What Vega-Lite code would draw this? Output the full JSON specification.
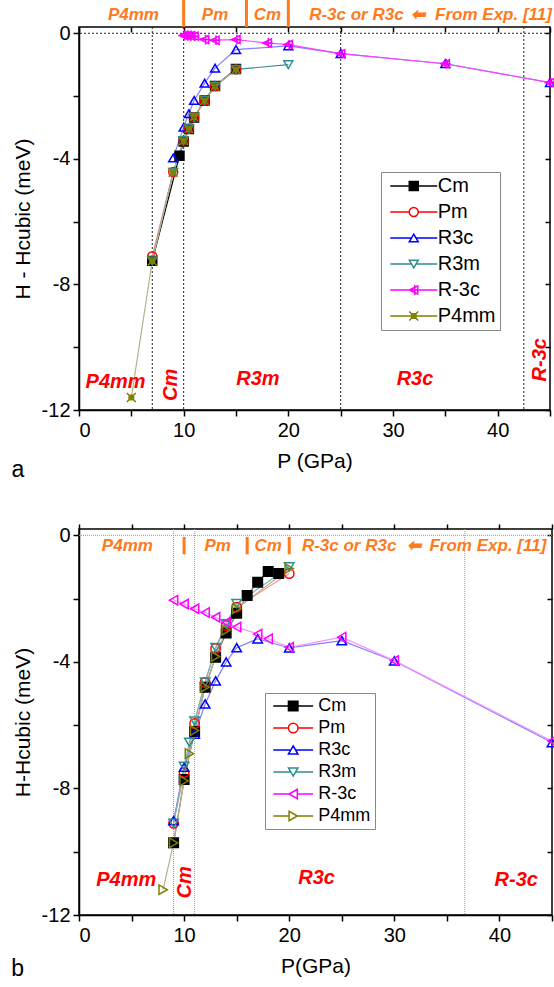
{
  "$schema": "https://vega.github.io/schema/vega-lite/v6.json",
  "padding": {"left": 10, "top": -3, "right": 0, "bottom": 0},
  "spacing": 119,
  "bounds": "flush",
  "datasets": {
    "a": [
      {"s": "Cm", "P": 7, "E": -7.25}, {"s": "Cm", "P": 9.6, "E": -3.9}, {"s": "Cm", "P": 10, "E": -3.45}, {"s": "Cm", "P": 10.5, "E": -3.05}, {"s": "Cm", "P": 11, "E": -2.68}, {"s": "Cm", "P": 12, "E": -2.14}, {"s": "Cm", "P": 13, "E": -1.68}, {"s": "Cm", "P": 15, "E": -1.14},
      {"s": "Pm", "P": 7, "E": -7.1}, {"s": "Pm", "P": 9, "E": -4.42}, {"s": "Pm", "P": 10, "E": -3.42}, {"s": "Pm", "P": 10.5, "E": -3.04}, {"s": "Pm", "P": 11, "E": -2.67}, {"s": "Pm", "P": 12, "E": -2.13}, {"s": "Pm", "P": 13, "E": -1.68}, {"s": "Pm", "P": 15, "E": -1.15},
      {"s": "R3c", "P": 9, "E": -3.97}, {"s": "R3c", "P": 10, "E": -2.99}, {"s": "R3c", "P": 10.5, "E": -2.56}, {"s": "R3c", "P": 11, "E": -2.14}, {"s": "R3c", "P": 12, "E": -1.59}, {"s": "R3c", "P": 13, "E": -1.11}, {"s": "R3c", "P": 15, "E": -0.52}, {"s": "R3c", "P": 20, "E": -0.4}, {"s": "R3c", "P": 25, "E": -0.65}, {"s": "R3c", "P": 35, "E": -0.97}, {"s": "R3c", "P": 45, "E": -1.57},
      {"s": "R3m", "P": 7, "E": -7.25}, {"s": "R3m", "P": 9, "E": -4.43}, {"s": "R3m", "P": 10, "E": -3.42}, {"s": "R3m", "P": 10.5, "E": -3.04}, {"s": "R3m", "P": 11, "E": -2.67}, {"s": "R3m", "P": 12, "E": -2.14}, {"s": "R3m", "P": 13, "E": -1.69}, {"s": "R3m", "P": 15, "E": -1.15}, {"s": "R3m", "P": 20, "E": -1.0},
      {"s": "R-3c", "P": 10, "E": -0.07}, {"s": "R-3c", "P": 10.3, "E": -0.07}, {"s": "R-3c", "P": 10.6, "E": -0.08}, {"s": "R-3c", "P": 11, "E": -0.09}, {"s": "R-3c", "P": 12, "E": -0.2}, {"s": "R-3c", "P": 13, "E": -0.22}, {"s": "R-3c", "P": 15, "E": -0.2}, {"s": "R-3c", "P": 18, "E": -0.31}, {"s": "R-3c", "P": 20, "E": -0.36}, {"s": "R-3c", "P": 25, "E": -0.65}, {"s": "R-3c", "P": 35, "E": -0.97}, {"s": "R-3c", "P": 45, "E": -1.57},
      {"s": "P4mm", "P": 5, "E": -11.6}, {"s": "P4mm", "P": 7, "E": -7.25}, {"s": "P4mm", "P": 9, "E": -4.43}, {"s": "P4mm", "P": 10, "E": -3.42}, {"s": "P4mm", "P": 10.5, "E": -3.04}, {"s": "P4mm", "P": 11, "E": -2.67}, {"s": "P4mm", "P": 12, "E": -2.14}, {"s": "P4mm", "P": 13, "E": -1.69}, {"s": "P4mm", "P": 15, "E": -1.15}
    ],
    "b": [
      {"s": "Cm", "P": 9, "E": -9.72}, {"s": "Cm", "P": 10, "E": -7.72}, {"s": "Cm", "P": 11, "E": -6.2}, {"s": "Cm", "P": 12, "E": -4.8}, {"s": "Cm", "P": 13, "E": -3.85}, {"s": "Cm", "P": 14, "E": -3.09}, {"s": "Cm", "P": 15, "E": -2.46}, {"s": "Cm", "P": 16, "E": -1.9}, {"s": "Cm", "P": 17, "E": -1.48}, {"s": "Cm", "P": 18, "E": -1.14}, {"s": "Cm", "P": 19, "E": -1.21},
      {"s": "Pm", "P": 9, "E": -9.1}, {"s": "Pm", "P": 10, "E": -7.5}, {"s": "Pm", "P": 11, "E": -5.95}, {"s": "Pm", "P": 12, "E": -4.65}, {"s": "Pm", "P": 13, "E": -3.58}, {"s": "Pm", "P": 14, "E": -2.85}, {"s": "Pm", "P": 15, "E": -2.27}, {"s": "Pm", "P": 20, "E": -1.21},
      {"s": "R3c", "P": 9, "E": -9.02}, {"s": "R3c", "P": 10, "E": -7.33}, {"s": "R3c", "P": 11, "E": -6.28}, {"s": "R3c", "P": 12, "E": -5.33}, {"s": "R3c", "P": 13, "E": -4.6}, {"s": "R3c", "P": 14, "E": -4.0}, {"s": "R3c", "P": 15, "E": -3.55}, {"s": "R3c", "P": 17, "E": -3.27}, {"s": "R3c", "P": 20, "E": -3.56}, {"s": "R3c", "P": 25, "E": -3.33}, {"s": "R3c", "P": 30, "E": -3.97}, {"s": "R3c", "P": 45, "E": -6.55},
      {"s": "R3m", "P": 9, "E": -9.1}, {"s": "R3m", "P": 10, "E": -7.3}, {"s": "R3m", "P": 10.5, "E": -6.54}, {"s": "R3m", "P": 11, "E": -5.87}, {"s": "R3m", "P": 12, "E": -4.64}, {"s": "R3m", "P": 13, "E": -3.55}, {"s": "R3m", "P": 14, "E": -2.8}, {"s": "R3m", "P": 15, "E": -2.16}, {"s": "R3m", "P": 20, "E": -1.0},
      {"s": "R-3c", "P": 9, "E": -2.05}, {"s": "R-3c", "P": 10, "E": -2.17}, {"s": "R-3c", "P": 11, "E": -2.32}, {"s": "R-3c", "P": 12, "E": -2.44}, {"s": "R-3c", "P": 13, "E": -2.59}, {"s": "R-3c", "P": 14, "E": -2.75}, {"s": "R-3c", "P": 15, "E": -2.9}, {"s": "R-3c", "P": 17, "E": -3.12}, {"s": "R-3c", "P": 18, "E": -3.27}, {"s": "R-3c", "P": 20, "E": -3.54}, {"s": "R-3c", "P": 25, "E": -3.22}, {"s": "R-3c", "P": 30, "E": -3.96}, {"s": "R-3c", "P": 45, "E": -6.5},
      {"s": "P4mm", "P": 8, "E": -11.2}, {"s": "P4mm", "P": 9, "E": -9.72}, {"s": "P4mm", "P": 10, "E": -7.76}, {"s": "P4mm", "P": 10.5, "E": -6.9}, {"s": "P4mm", "P": 11, "E": -6.17}, {"s": "P4mm", "P": 12, "E": -4.8}, {"s": "P4mm", "P": 13, "E": -3.83}, {"s": "P4mm", "P": 14, "E": -3.0}, {"s": "P4mm", "P": 15, "E": -2.32}, {"s": "P4mm", "P": 20, "E": -1.05}
    ]
  },
  "vconcat": [
    {
      "width": 471,
      "height": 383,
      "layer": [
        {
          "data": {"values": [{"P": 7}, {"P": 10}, {"P": 25}, {"P": 42.5}]},
          "mark": {"type": "rule", "color": "#222", "strokeDash": [2, 2], "strokeWidth": 1},
          "encoding": {
            "x": {"field": "P", "type": "quantitative", "scale": {"domain": [0, 45], "nice": false, "zero": false},
              "axis": {"orient": "bottom", "values": [0, 5, 10, 15, 20, 25, 30, 35, 40, 45], "labelExpr": "datum.value % 10 == 0 ? '' + datum.value : ''", "title": "P (GPa)", "labelPadding": 4, "titlePadding": 10}}
          }
        },
        {
          "data": {"values": [{"E": 0}]},
          "mark": {"type": "rule", "color": "#222", "strokeDash": [2, 2], "strokeWidth": 1},
          "encoding": {
            "y": {"field": "E", "type": "quantitative", "scale": {"domain": [-12, 0.2], "nice": false, "zero": false},
              "axis": {"orient": "left", "values": [-12, -10, -8, -6, -4, -2, 0], "labelExpr": "datum.value % 4 == 0 ? '' + datum.value : ''", "title": "H - Hcubic (meV)", "labelPadding": 3, "titlePadding": 8}}
          }
        },
        {
          "data": {"name": "a"},
          "mark": {"type": "line", "strokeWidth": 1.2},
          "encoding": {
            "x": {"field": "P", "type": "quantitative", "scale": {"domain": [0, 45], "nice": false, "zero": false},
              "axis": {"orient": "top", "values": [0, 5, 10, 15, 20, 25, 30, 35, 40, 45], "labels": false, "title": null, "tickSize": -5, "domain": false}},
            "y": {"field": "E", "type": "quantitative", "scale": {"domain": [-12, 0.2], "nice": false, "zero": false},
              "axis": {"orient": "right", "values": [-12, -10, -8, -6, -4, -2, 0], "labels": false, "title": null, "tickSize": -5, "domain": false}},
            "color": {"field": "s", "type": "nominal", "legend": null,
              "scale": {"domain": ["P4mm", "R-3c", "R3m", "R3c", "Pm", "Cm"], "range": ["#b4b48c", "#ff40ff", "#3f8f8f", "#8080ff", "#ff8c8c", "#000000"]}}
          }
        },
        {
          "data": {"name": "a"},
          "mark": {"type": "point", "filled": false, "size": 80, "strokeWidth": 1.5, "opacity": 1},
          "encoding": {
            "x": {"field": "P", "type": "quantitative", "scale": {"domain": [0, 45], "nice": false, "zero": false}, "axis": null},
            "y": {"field": "E", "type": "quantitative", "scale": {"domain": [-12, 0.2], "nice": false, "zero": false}, "axis": null},
            "shape": {"field": "s", "type": "nominal", "legend": null,
              "scale": {"domain": ["Cm", "Pm", "R3c", "R3m", "R-3c", "P4mm"], "range": ["square", "circle", "triangle-up", "triangle-down", "M-1,0L0.9,-0.9L0.9,0.9Z M0.2,-1.1L0.2,1.1 M-1.2,0L1.2,0", "M-1,-1L1,1M-1,1L1,-1M-0.5,-0.5L0.5,-0.5L0.5,0.5L-0.5,0.5Z"]}},
            "stroke": {"field": "s", "type": "nominal", "legend": null,
              "scale": {"domain": ["Cm", "Pm", "R3c", "R3m", "R-3c", "P4mm"], "range": ["#000000", "#ff0000", "#0000ff", "#2f8f8f", "#ff00ff", "#7f7f00"]}},
            "fill": {"field": "s", "type": "nominal", "legend": null,
              "scale": {"domain": ["Cm", "Pm", "R3c", "R3m", "R-3c", "P4mm"], "range": ["#000000", "transparent", "transparent", "transparent", "transparent", "transparent"]}}
          }
        },
        {
          "data": {"values": []},
          "mark": {"type": "point", "filled": false, "size": 80, "strokeWidth": 1.5, "opacity": 1},
          "encoding": {
            "x": {"field": "P", "type": "quantitative", "scale": {"domain": [0, 45], "nice": false, "zero": false}, "axis": null},
            "y": {"field": "E", "type": "quantitative", "scale": {"domain": [-12, 0.2], "nice": false, "zero": false}, "axis": null},
            "shape": {"field": "s", "type": "nominal",
              "scale": {"domain": ["Cm", "Pm", "R3c", "R3m", "R-3c", "P4mm"], "range": ["M-5.25,0L-1,0M1,0L5.25,0M-1,-1L1,-1L1,1L-1,1Z", "M-5.25,0L-1,0M1,0L5.25,0M-1,0A1,1,0,1,1,1,0A1,1,0,1,1,-1,0Z", "M-5.25,0L-0.5,0M0.5,0L5.25,0M0,-0.866L1,0.866L-1,0.866Z", "M-5.25,0L-0.5,0M0.5,0L5.25,0M0,0.866L1,-0.866L-1,-0.866Z", "M-5.25,0L5.25,0M-1,0L0.9,-0.9L0.9,0.9ZM0.2,-1.1L0.2,1.1", "M-5.25,0L5.25,0M-1,-1L1,1M-1,1L1,-1M-0.5,-0.5L0.5,-0.5L0.5,0.5L-0.5,0.5Z"]},
              "legend": {"orient": "none", "legendX": 302, "legendY": 145, "title": null, "symbolSize": 80, "symbolOffset": 18.75, "labelOffset": 14, "padding": 4, "rowPadding": 6, "labelFontSize": 20}},
            "stroke": {"field": "s", "type": "nominal",
              "scale": {"domain": ["Cm", "Pm", "R3c", "R3m", "R-3c", "P4mm"], "range": ["#000000", "#ff0000", "#0000ff", "#2f8f8f", "#ff00ff", "#7f7f00"]},
              "legend": {"orient": "none", "legendX": 302, "legendY": 145, "title": null, "symbolSize": 80, "symbolOffset": 18.75, "labelOffset": 14, "padding": 4, "rowPadding": 6, "labelFontSize": 20}},
            "fill": {"field": "s", "type": "nominal",
              "scale": {"domain": ["Cm", "Pm", "R3c", "R3m", "R-3c", "P4mm"], "range": ["#000000", "transparent", "transparent", "transparent", "transparent", "transparent"]},
              "legend": {"orient": "none", "legendX": 302, "legendY": 145, "title": null, "symbolSize": 80, "symbolOffset": 18.75, "labelOffset": 14, "padding": 4, "rowPadding": 6, "labelFontSize": 20}}
          }
        },
        {
          "data": {"values": [{"P": 10}, {"P": 16}, {"P": 20}]},
          "mark": {"type": "rule", "color": "#ff7a1a", "strokeWidth": 3},
          "encoding": {
            "x": {"field": "P", "type": "quantitative", "scale": {"domain": [0, 45], "nice": false, "zero": false}, "axis": null},
            "y": {"datum": 0.2, "type": "quantitative", "scale": {"domain": [-12, 0.2], "nice": false, "zero": false}, "axis": null},
            "y2": {"datum": 1.06}
          }
        },
        {
          "data": {"values": [{"P": 5.2, "E": 0.58, "t": "P4mm"}, {"P": 13.0, "E": 0.58, "t": "Pm"}, {"P": 18.0, "E": 0.58, "t": "Cm"}, {"P": 26.5, "E": 0.58, "t": "R-3c or R3c"}, {"P": 32.4, "E": 0.58, "t": "⬅"}, {"P": 39.6, "E": 0.58, "t": "From Exp. [11]"}]},
          "mark": {"type": "text", "color": "#ff7a1a", "fontSize": 17, "fontWeight": "bold", "fontStyle": "italic", "align": "center", "baseline": "middle"},
          "encoding": {
            "x": {"field": "P", "type": "quantitative", "scale": {"domain": [0, 45], "nice": false, "zero": false}, "axis": null},
            "y": {"field": "E", "type": "quantitative", "scale": {"domain": [-12, 0.2], "nice": false, "zero": false}, "axis": null},
            "text": {"field": "t"}
          }
        },
        {
          "data": {"values": [{"P": 3.5, "E": -11.1, "t": "P4mm"}, {"P": 17.1, "E": -11.0, "t": "R3m"}, {"P": 32.1, "E": -11.0, "t": "R3c"}]},
          "mark": {"type": "text", "color": "#ff0000", "fontSize": 20, "fontWeight": "bold", "fontStyle": "italic", "align": "center", "baseline": "middle"},
          "encoding": {
            "x": {"field": "P", "type": "quantitative", "scale": {"domain": [0, 45], "nice": false, "zero": false}, "axis": null},
            "y": {"field": "E", "type": "quantitative", "scale": {"domain": [-12, 0.2], "nice": false, "zero": false}, "axis": null},
            "text": {"field": "t"}
          }
        },
        {
          "data": {"values": [{"P": 8.8, "E": -11.2, "t": "Cm"}, {"P": 44.0, "E": -10.4, "t": "R-3c"}]},
          "mark": {"type": "text", "color": "#ff0000", "fontSize": 20, "fontWeight": "bold", "fontStyle": "italic", "align": "center", "baseline": "middle", "angle": 270},
          "encoding": {
            "x": {"field": "P", "type": "quantitative", "scale": {"domain": [0, 45], "nice": false, "zero": false}, "axis": null},
            "y": {"field": "E", "type": "quantitative", "scale": {"domain": [-12, 0.2], "nice": false, "zero": false}, "axis": null},
            "text": {"field": "t"}
          }
        },
        {
          "data": {"values": [{"P": -5.83, "E": -13.9, "t": "a"}]},
          "mark": {"type": "text", "color": "black", "fontSize": 23, "align": "center", "baseline": "middle"},
          "encoding": {
            "x": {"field": "P", "type": "quantitative", "scale": {"domain": [0, 45], "nice": false, "zero": false}, "axis": null},
            "y": {"field": "E", "type": "quantitative", "scale": {"domain": [-12, 0.2], "nice": false, "zero": false}, "axis": null},
            "text": {"field": "t"}
          }
        }
      ],
      "resolve": {"axis": {"x": "independent", "y": "independent"}, "scale": {"shape": "independent", "stroke": "independent", "fill": "independent", "color": "independent"}}
    },
    {
      "width": 473,
      "height": 386,
      "layer": [
        {
          "data": {"values": [{"P": 9}, {"P": 11}, {"P": 36.7}]},
          "mark": {"type": "rule", "color": "#999", "strokeDash": [1, 1], "strokeWidth": 1},
          "encoding": {
            "x": {"field": "P", "type": "quantitative", "scale": {"domain": [0, 45], "nice": false, "zero": false},
              "axis": {"orient": "bottom", "values": [0, 5, 10, 15, 20, 25, 30, 35, 40, 45], "labelExpr": "datum.value % 10 == 0 ? '' + datum.value : ''", "title": "P(GPa)", "labelPadding": 4, "titlePadding": 10}}
          }
        },
        {
          "data": {"values": [{"E": 0}]},
          "mark": {"type": "rule", "color": "#999", "strokeDash": [1, 1], "strokeWidth": 1},
          "encoding": {
            "y": {"field": "E", "type": "quantitative", "scale": {"domain": [-12, 0.2], "nice": false, "zero": false},
              "axis": {"orient": "left", "values": [-12, -10, -8, -6, -4, -2, 0], "labelExpr": "datum.value % 4 == 0 ? '' + datum.value : ''", "title": "H-Hcubic (meV)", "labelPadding": 3, "titlePadding": 8}}
          }
        },
        {
          "data": {"name": "b"},
          "mark": {"type": "line", "strokeWidth": 1.2},
          "encoding": {
            "x": {"field": "P", "type": "quantitative", "scale": {"domain": [0, 45], "nice": false, "zero": false},
              "axis": {"orient": "top", "values": [0, 5, 10, 15, 20, 25, 30, 35, 40, 45], "labels": false, "title": null, "tickSize": 5, "domain": false}},
            "y": {"field": "E", "type": "quantitative", "scale": {"domain": [-12, 0.2], "nice": false, "zero": false},
              "axis": {"orient": "right", "values": [-12, -10, -8, -6, -4, -2, 0], "labels": false, "title": null, "tickSize": -5, "domain": false}},
            "color": {"field": "s", "type": "nominal", "legend": null,
              "scale": {"domain": ["P4mm", "R-3c", "R3m", "R3c", "Pm", "Cm"], "range": ["#b4b48c", "#ff90ff", "#70b8b8", "#8080ff", "#ff8c8c", "#707070"]}}
          }
        },
        {
          "data": {"name": "b"},
          "mark": {"type": "point", "filled": false, "size": 90, "strokeWidth": 1.5, "opacity": 1},
          "encoding": {
            "x": {"field": "P", "type": "quantitative", "scale": {"domain": [0, 45], "nice": false, "zero": false}, "axis": null},
            "y": {"field": "E", "type": "quantitative", "scale": {"domain": [-12, 0.2], "nice": false, "zero": false}, "axis": null},
            "shape": {"field": "s", "type": "nominal", "legend": null,
              "scale": {"domain": ["Cm", "Pm", "R3c", "R3m", "R-3c", "P4mm"], "range": ["square", "circle", "triangle-up", "triangle-down", "triangle-left", "triangle-right"]}},
            "stroke": {"field": "s", "type": "nominal", "legend": null,
              "scale": {"domain": ["Cm", "Pm", "R3c", "R3m", "R-3c", "P4mm"], "range": ["#000000", "#ff0000", "#0000ff", "#2f8f8f", "#ff00ff", "#7f7f00"]}},
            "fill": {"field": "s", "type": "nominal", "legend": null,
              "scale": {"domain": ["Cm", "Pm", "R3c", "R3m", "R-3c", "P4mm"], "range": ["#000000", "transparent", "transparent", "transparent", "transparent", "transparent"]}}
          }
        },
        {
          "data": {"values": []},
          "mark": {"type": "point", "filled": false, "size": 90, "strokeWidth": 1.5, "opacity": 1},
          "encoding": {
            "x": {"field": "P", "type": "quantitative", "scale": {"domain": [0, 45], "nice": false, "zero": false}, "axis": null},
            "y": {"field": "E", "type": "quantitative", "scale": {"domain": [-12, 0.2], "nice": false, "zero": false}, "axis": null},
            "shape": {"field": "s", "type": "nominal",
              "scale": {"domain": ["Cm", "Pm", "R3c", "R3m", "R-3c", "P4mm"], "range": ["M-4.2,0L-1,0M1,0L4.2,0M-1,-1L1,-1L1,1L-1,1Z", "M-4.2,0L-1,0M1,0L4.2,0M-1,0A1,1,0,1,1,1,0A1,1,0,1,1,-1,0Z", "M-4.2,0L-0.5,0M0.5,0L4.2,0M0,-0.866L1,0.866L-1,0.866Z", "M-4.2,0L-0.5,0M0.5,0L4.2,0M0,0.866L1,-0.866L-1,-0.866Z", "M-4.2,0L-0.866,0M0.866,0L4.2,0M-0.866,0L0.866,-1L0.866,1Z", "M-4.2,0L-0.866,0M0.866,0L4.2,0M0.866,0L-0.866,-1L-0.866,1Z"]},
              "legend": {"orient": "none", "legendX": 186, "legendY": 164, "title": null, "symbolSize": 90, "symbolOffset": 15.2, "labelOffset": 16, "padding": 4, "rowPadding": 4, "labelFontSize": 18}},
            "stroke": {"field": "s", "type": "nominal",
              "scale": {"domain": ["Cm", "Pm", "R3c", "R3m", "R-3c", "P4mm"], "range": ["#000000", "#ff0000", "#0000ff", "#2f8f8f", "#ff00ff", "#7f7f00"]},
              "legend": {"orient": "none", "legendX": 186, "legendY": 164, "title": null, "symbolSize": 90, "symbolOffset": 15.2, "labelOffset": 16, "padding": 4, "rowPadding": 4, "labelFontSize": 18}},
            "fill": {"field": "s", "type": "nominal",
              "scale": {"domain": ["Cm", "Pm", "R3c", "R3m", "R-3c", "P4mm"], "range": ["#000000", "transparent", "transparent", "transparent", "transparent", "transparent"]},
              "legend": {"orient": "none", "legendX": 186, "legendY": 164, "title": null, "symbolSize": 90, "symbolOffset": 15.2, "labelOffset": 16, "padding": 4, "rowPadding": 4, "labelFontSize": 18}}
          }
        },
        {
          "data": {"values": [{"P": 10}, {"P": 16}, {"P": 20}]},
          "mark": {"type": "rule", "color": "#ff7a1a", "strokeWidth": 3},
          "encoding": {
            "x": {"field": "P", "type": "quantitative", "scale": {"domain": [0, 45], "nice": false, "zero": false}, "axis": null},
            "y": {"datum": -0.05, "type": "quantitative", "scale": {"domain": [-12, 0.2], "nice": false, "zero": false}, "axis": null},
            "y2": {"datum": -0.6}
          }
        },
        {
          "data": {"values": [{"P": 4.6, "E": -0.34, "t": "P4mm"}, {"P": 13.2, "E": -0.34, "t": "Pm"}, {"P": 18.0, "E": -0.34, "t": "Cm"}, {"P": 25.7, "E": -0.34, "t": "R-3c or R3c"}, {"P": 31.9, "E": -0.34, "t": "⬅"}, {"P": 38.9, "E": -0.34, "t": "From Exp. [11]"}]},
          "mark": {"type": "text", "color": "#ff7a1a", "fontSize": 17, "fontWeight": "bold", "fontStyle": "italic", "align": "center", "baseline": "middle"},
          "encoding": {
            "x": {"field": "P", "type": "quantitative", "scale": {"domain": [0, 45], "nice": false, "zero": false}, "axis": null},
            "y": {"field": "E", "type": "quantitative", "scale": {"domain": [-12, 0.2], "nice": false, "zero": false}, "axis": null},
            "text": {"field": "t"}
          }
        },
        {
          "data": {"values": [{"P": 4.5, "E": -10.9, "t": "P4mm"}, {"P": 22.6, "E": -10.84, "t": "R3c"}, {"P": 41.6, "E": -10.9, "t": "R-3c"}]},
          "mark": {"type": "text", "color": "#ff0000", "fontSize": 20, "fontWeight": "bold", "fontStyle": "italic", "align": "center", "baseline": "middle"},
          "encoding": {
            "x": {"field": "P", "type": "quantitative", "scale": {"domain": [0, 45], "nice": false, "zero": false}, "axis": null},
            "y": {"field": "E", "type": "quantitative", "scale": {"domain": [-12, 0.2], "nice": false, "zero": false}, "axis": null},
            "text": {"field": "t"}
          }
        },
        {
          "data": {"values": [{"P": 10.1, "E": -10.97, "t": "Cm"}]},
          "mark": {"type": "text", "color": "#ff0000", "fontSize": 20, "fontWeight": "bold", "fontStyle": "italic", "align": "center", "baseline": "middle", "angle": 270},
          "encoding": {
            "x": {"field": "P", "type": "quantitative", "scale": {"domain": [0, 45], "nice": false, "zero": false}, "axis": null},
            "y": {"field": "E", "type": "quantitative", "scale": {"domain": [-12, 0.2], "nice": false, "zero": false}, "axis": null},
            "text": {"field": "t"}
          }
        },
        {
          "data": {"values": [{"P": -5.83, "E": -13.7, "t": "b"}]},
          "mark": {"type": "text", "color": "black", "fontSize": 23, "align": "center", "baseline": "middle"},
          "encoding": {
            "x": {"field": "P", "type": "quantitative", "scale": {"domain": [0, 45], "nice": false, "zero": false}, "axis": null},
            "y": {"field": "E", "type": "quantitative", "scale": {"domain": [-12, 0.2], "nice": false, "zero": false}, "axis": null},
            "text": {"field": "t"}
          }
        }
      ],
      "resolve": {"axis": {"x": "independent", "y": "independent"}, "scale": {"shape": "independent", "stroke": "independent", "fill": "independent", "color": "independent"}}
    }
  ],
  "resolve": {"scale": {"shape": "independent", "stroke": "independent", "fill": "independent", "color": "independent"}},
  "config": {
    "font": "Liberation Sans",
    "view": {"stroke": "black", "strokeWidth": 1.5},
    "axis": {"domainColor": "black", "domainWidth": 1.5, "tickColor": "black", "tickWidth": 1.5, "tickSize": 6, "labelColor": "black", "titleColor": "black", "labelFont": "Liberation Sans", "titleFont": "Liberation Sans", "labelFontSize": 20, "titleFontSize": 21, "titleFontWeight": "normal", "grid": false},
    "legend": {"labelFont": "Liberation Sans", "labelColor": "black", "symbolStrokeWidth": 1.5, "strokeColor": "#888", "fillColor": "white"}
  }
}
